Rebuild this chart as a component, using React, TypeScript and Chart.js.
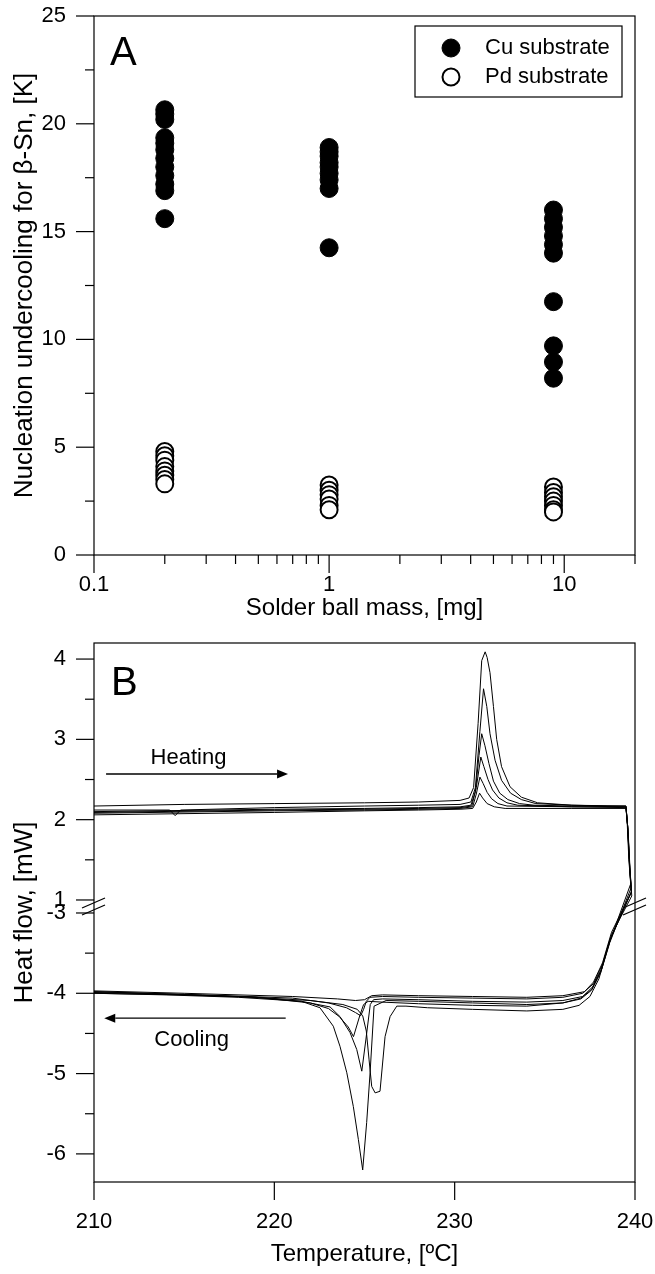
import React, { useEffect, useRef } from "react";
import { Chart, registerables } from "chart.js";

Chart.register(...registerables);

const FONT = "'Liberation Sans', Arial, Helvetica, sans-serif";

// ---------------- Panel A data ----------------
const massCategories = [0.2, 1, 9];
const cuAt02 = [20.65, 20.45, 20.2, 19.35, 19.1, 18.8, 18.4, 18.0, 17.6, 17.2, 16.9, 15.6];
const cuAt1 = [18.9, 18.7, 18.5, 18.2, 18.0, 17.7, 17.4, 17.0, 14.25];
const cuAt9 = [16.0, 15.6, 15.2, 14.8, 14.4, 14.0, 11.75, 9.7, 8.95, 8.2];
const pdAt02 = [4.8, 4.6, 4.4, 4.1, 3.9, 3.7, 3.5, 3.3];
const pdAt1 = [3.25, 3.0, 2.8, 2.6, 2.3, 2.1];
const pdAt9 = [3.15, 2.9, 2.7, 2.5, 2.3, 2.1, 2.0];

const massTicks = [0.1, 1, 10];
const massTickLabels = ["0.1", "1", "10"];
const massMinorTicks = [0.2, 0.3, 0.4, 0.5, 0.6, 0.7, 0.8, 0.9, 2, 3, 4, 5, 6, 7, 8, 9, 20];
const undercoolTicks = [0, 5, 10, 15, 20, 25];
const undercoolMinorTicks = [2.5, 7.5, 12.5, 17.5, 22.5];

// ---------------- Panel B data ----------------
const tempTicks = [210, 220, 230, 240];
const heatFlowTicks = [4, 3, 2, 1, -3, -4, -5, -6];
const heatFlowTickLabels = ["4", "3", "2", "1", "-3", "-4", "-5", "-6"];
const heatFlowMinorTicks = [3.5, 2.5, 1.5, -3.5, -4.5, -5.5];

// heating runs
const heat1T = [210, 215, 220, 225, 228, 230.3, 230.8, 231.05, 231.3, 231.5, 231.69, 231.8, 231.96, 232.15, 232.33, 232.6, 233.07, 233.7, 234.6, 236.5, 238.5, 239.5];
const heat1HF = [2.17, 2.19, 2.2, 2.21, 2.22, 2.24, 2.27, 2.4, 3.2, 3.98, 4.09, 4.02, 3.83, 3.41, 3.0, 2.66, 2.41, 2.28, 2.21, 2.18, 2.17, 2.17];
const heat2T = [210, 214.2, 214.5, 214.8, 220, 225, 228, 230.3, 230.9, 231.15, 231.4, 231.6, 231.78, 231.96, 232.24, 232.6, 233.1, 233.7, 234.5, 236.5, 239.5];
const heat2HF = [2.12, 2.12, 2.05, 2.12, 2.15, 2.17, 2.18, 2.19, 2.22, 2.4, 3.1, 3.63, 3.41, 3.07, 2.74, 2.49, 2.33, 2.25, 2.2, 2.18, 2.17];
const heat3T = [210, 220, 225, 228, 230.3, 230.9, 231.15, 231.35, 231.5, 231.68, 231.9, 232.15, 232.5, 232.95, 233.6, 234.4, 236.5, 239.5];
const heat3HF = [2.1, 2.13, 2.14, 2.15, 2.16, 2.18, 2.35, 2.8, 3.07, 2.92, 2.7, 2.48, 2.33, 2.25, 2.2, 2.18, 2.17, 2.16];
const heat4T = [210, 220, 225, 228, 230.3, 230.95, 231.2, 231.45, 231.62, 231.85, 232.1, 232.45, 232.9, 233.5, 236.5, 239.5];
const heat4HF = [2.09, 2.12, 2.13, 2.14, 2.15, 2.17, 2.4, 2.78, 2.66, 2.5, 2.37, 2.27, 2.21, 2.18, 2.16, 2.16];
const heat5T = [210, 220, 225, 228, 230.3, 231.0, 231.2, 231.4, 231.58, 231.8, 232.05, 232.4, 232.9, 236.5, 239.5];
const heat5HF = [2.08, 2.11, 2.12, 2.13, 2.14, 2.16, 2.32, 2.53, 2.45, 2.34, 2.26, 2.2, 2.17, 2.16, 2.15];
const heat6T = [210, 220, 225, 228, 230.3, 231.0, 231.2, 231.38, 231.55, 231.8, 232.2, 232.8, 236.5, 239.5];
const heat6HF = [2.06, 2.09, 2.11, 2.12, 2.13, 2.14, 2.22, 2.33, 2.27, 2.2, 2.16, 2.14, 2.14, 2.14];

// cooling runs (start with the jump at 240 °C)
const cool1T = [239.58, 239.68, 239.78, 238.6, 238.1, 237.6, 237.0, 236.0, 234.0, 231.0, 228.0, 226.2, 225.53, 225.31, 225.12, 224.9, 224.66, 224.38, 224.02, 223.64, 223.27, 222.53, 221.5, 219.0, 215.0, 210.0];
const cool1HF = [1.95, 1.5, 1.15, -3.37, -3.74, -3.96, -4.07, -4.12, -4.14, -4.12, -4.1, -4.09, -4.16, -4.99, -5.61, -6.2, -5.82, -5.41, -4.99, -4.66, -4.41, -4.18, -4.1, -4.05, -4.02, -4.0];
const cool2T = [239.6, 239.7, 239.8, 238.65, 238.15, 237.65, 237.1, 236.0, 234.0, 231.0, 228.0, 226.0, 225.5, 225.32, 225.08, 224.85, 224.57, 224.2, 223.64, 223.09, 221.5, 218.0, 214.0, 210.0];
const cool2HF = [1.9, 1.45, 1.1, -3.32, -3.7, -3.92, -4.04, -4.09, -4.11, -4.1, -4.08, -4.07, -4.08, -4.14, -4.57, -4.97, -4.7, -4.49, -4.29, -4.17, -4.1, -4.05, -4.02, -4.0];
const cool3T = [239.57, 239.66, 239.76, 238.5, 238.0, 237.5, 236.9, 236.0, 234.0, 231.0, 228.5, 227.3, 226.79, 226.42, 226.14, 225.86, 225.59, 225.4, 225.25, 225.1, 224.9, 224.6, 223.8, 222.0, 218.0, 214.0, 210.0];
const cool3HF = [1.95, 1.5, 1.2, -3.42, -3.82, -4.04, -4.15, -4.2, -4.22, -4.2, -4.18, -4.16, -4.16, -4.29, -4.54, -5.22, -5.24, -5.16, -4.82, -4.47, -4.28, -4.2, -4.14, -4.09, -4.04, -4.01, -3.98];
const cool4T = [239.6, 239.7, 239.8, 238.6, 238.1, 237.6, 237.0, 236.0, 234.0, 231.0, 228.0, 226.0, 225.2, 224.95, 224.75, 224.39, 224.1, 223.6, 223.0, 222.0, 219.0, 214.0, 210.0];
const cool4HF = [1.9, 1.4, 1.1, -3.34, -3.72, -3.95, -4.06, -4.12, -4.16, -4.15, -4.13, -4.11, -4.1, -4.14, -4.27, -4.54, -4.42, -4.29, -4.19, -4.12, -4.05, -4.01, -3.99];
const cool5T = [239.62, 239.72, 239.82, 238.7, 238.2, 237.7, 237.1, 236.0, 234.0, 231.0, 228.0, 226.0, 225.3, 225.1, 224.95, 224.79, 224.5, 224.0, 223.0, 221.0, 216.0, 210.0];
const cool5HF = [1.85, 1.4, 1.05, -3.27, -3.64, -3.88, -4.0, -4.05, -4.07, -4.06, -4.05, -4.04, -4.05, -4.1, -4.2, -4.28, -4.24, -4.18, -4.12, -4.06, -4.02, -3.98];
const cool6T = [239.6, 239.7, 239.8, 238.7, 238.2, 237.7, 237.2, 236.0, 234.0, 231.0, 228.0, 226.0, 225.4, 225.0, 224.5, 223.5, 221.0, 215.0, 210.0];
const cool6HF = [1.9, 1.45, 1.1, -3.24, -3.62, -3.86, -3.98, -4.03, -4.05, -4.04, -4.03, -4.02, -4.03, -4.08, -4.09, -4.07, -4.04, -4.0, -3.97];

const heatRunsT = [heat1T, heat2T, heat3T, heat4T, heat5T, heat6T];
const heatRunsHF = [heat1HF, heat2HF, heat3HF, heat4HF, heat5HF, heat6HF];
const coolRunsT = [cool1T, cool2T, cool3T, cool4T, cool5T, cool6T];
const coolRunsHF = [cool1HF, cool2HF, cool3HF, cool4HF, cool5HF, cool6HF];

// axis break: values below -1 mW are shifted up so that -3 sits just under 1
const BREAK_SHIFT = 3.838;
const toD = (v: number) => (v < -1 ? v + BREAK_SHIFT : v);

// ---------------- helpers ----------------
const MAJOR = 18;
const MINOR = 9;

function line(ctx: CanvasRenderingContext2D, x1: number, y1: number, x2: number, y2: number) {
  ctx.beginPath();
  ctx.moveTo(x1, y1);
  ctx.lineTo(x2, y2);
  ctx.stroke();
}

function fixAxisY(width: number) {
  return (s: any) => {
    s.width = width;
    s.paddingTop = 0;
    s.paddingBottom = 0;
    s.paddingLeft = 0;
    s.paddingRight = 0;
  };
}
function fixAxisX(height: number) {
  return (s: any) => {
    s.height = height;
    s.paddingTop = 0;
    s.paddingBottom = 0;
    s.paddingLeft = 0;
    s.paddingRight = 0;
  };
}

const panelAPlugin = {
  id: "panelA",
  afterDraw(chart: any) {
    const { ctx, chartArea: a } = chart;
    const x = chart.scales.x;
    const y = chart.scales.y;
    ctx.save();
    ctx.strokeStyle = "#000";
    ctx.fillStyle = "#000";
    ctx.lineWidth = 1.2;
    ctx.strokeRect(a.left, a.top, a.right - a.left, a.bottom - a.top);
    undercoolTicks.forEach((v) => {
      const p = y.getPixelForValue(v);
      line(ctx, a.left - MAJOR, p, a.left, p);
    });
    undercoolMinorTicks.forEach((v) => {
      const p = y.getPixelForValue(v);
      line(ctx, a.left - MINOR, p, a.left, p);
    });
    massTicks.forEach((v) => {
      const p = x.getPixelForValue(v);
      line(ctx, p, a.bottom, p, a.bottom + MAJOR);
    });
    massMinorTicks.forEach((v) => {
      const p = x.getPixelForValue(v);
      line(ctx, p, a.bottom, p, a.bottom + MINOR);
    });
    // panel letter
    ctx.font = `40px ${FONT}`;
    ctx.textBaseline = "alphabetic";
    ctx.textAlign = "left";
    ctx.fillText("A", a.left + 16, a.top + 49);
    // legend
    const bx = a.right - 220;
    const by = a.top + 10;
    ctx.lineWidth = 1.2;
    ctx.strokeRect(bx, by, 207, 71);
    const rows = [
      { label: chart.data.datasets[0].label, fill: "#000", bw: 1, r: 9, yy: by + 22 },
      { label: chart.data.datasets[1].label, fill: "#fff", bw: 2, r: 8.5, yy: by + 51 },
    ];
    ctx.font = `22px ${FONT}`;
    ctx.textBaseline = "middle";
    rows.forEach((row) => {
      ctx.beginPath();
      ctx.arc(bx + 36, row.yy, row.r, 0, Math.PI * 2);
      ctx.fillStyle = row.fill;
      ctx.fill();
      ctx.lineWidth = row.bw;
      ctx.stroke();
      ctx.fillStyle = "#000";
      ctx.fillText(row.label, bx + 70, row.yy);
    });
    ctx.restore();
  },
};

// annotation anchors (data coordinates) for panel B
const heatingArrow = { from: 210.67, to: 220.76, hf: 2.569 };
const heatingText = { t: 215.24, hf: 2.768, text: "Heating" };
const coolingArrow = { from: 220.63, to: 210.57, hf: -4.31 };
const coolingText = { t: 215.41, hf: -4.58, text: "Cooling" };

function arrow(ctx: CanvasRenderingContext2D, x1: number, x2: number, y: number) {
  const dir = Math.sign(x2 - x1);
  const head = 11;
  line(ctx, x1, y, x2 - dir * head, y);
  ctx.beginPath();
  ctx.moveTo(x2, y);
  ctx.lineTo(x2 - dir * head, y - 4.5);
  ctx.lineTo(x2 - dir * head, y + 4.5);
  ctx.closePath();
  ctx.fill();
}

const panelBPlugin = {
  id: "panelB",
  afterDraw(chart: any) {
    const { ctx, chartArea: a } = chart;
    const x = chart.scales.x;
    const y = chart.scales.y;
    ctx.save();
    ctx.strokeStyle = "#000";
    ctx.fillStyle = "#000";
    ctx.lineWidth = 1.2;
    ctx.strokeRect(a.left, a.top, a.right - a.left, a.bottom - a.top);
    heatFlowTicks.forEach((v) => {
      const p = y.getPixelForValue(toD(v));
      line(ctx, a.left - MAJOR, p, a.left, p);
    });
    heatFlowMinorTicks.forEach((v) => {
      const p = y.getPixelForValue(toD(v));
      line(ctx, a.left - MINOR, p, a.left, p);
    });
    tempTicks.forEach((v) => {
      const p = x.getPixelForValue(v);
      line(ctx, p, a.bottom, p, a.bottom + MAJOR);
    });
    // axis break marks
    const yb = (y.getPixelForValue(toD(1)) + y.getPixelForValue(toD(-3))) / 2;
    [a.left, a.right].forEach((xx) => {
      ctx.lineWidth = 1.2;
      line(ctx, xx - 12, yb + 1.5, xx + 11, yb - 8.5);
      line(ctx, xx - 12, yb + 8.5, xx + 11, yb - 1.5);
    });
    // panel letter
    ctx.font = `40px ${FONT}`;
    ctx.textBaseline = "alphabetic";
    ctx.textAlign = "left";
    ctx.fillText("B", a.left + 17, a.top + 52);
    // annotations
    ctx.font = `22px ${FONT}`;
    ctx.textAlign = "center";
    ctx.textBaseline = "middle";
    ctx.fillText(heatingText.text, x.getPixelForValue(heatingText.t), y.getPixelForValue(toD(heatingText.hf)));
    ctx.fillText(coolingText.text, x.getPixelForValue(coolingText.t), y.getPixelForValue(toD(coolingText.hf)));
    ctx.lineWidth = 1.3;
    arrow(ctx, x.getPixelForValue(heatingArrow.from), x.getPixelForValue(heatingArrow.to), y.getPixelForValue(toD(heatingArrow.hf)));
    arrow(ctx, x.getPixelForValue(coolingArrow.from), x.getPixelForValue(coolingArrow.to), y.getPixelForValue(toD(coolingArrow.hf)));
    ctx.restore();
  },
};

const tickFont = { family: FONT, size: 22 };
const xTitleFont = { family: FONT, size: 24 };
const yTitleFont = { family: FONT, size: 26 };

export default function App() {
  const refA = useRef<HTMLCanvasElement>(null);
  const refB = useRef<HTMLCanvasElement>(null);

  useEffect(() => {
    const pts = (m: number, vals: number[]) => vals.map((v) => ({ x: m, y: v }));
    const chartA = new Chart(refA.current as HTMLCanvasElement, {
      type: "scatter",
      data: {
        datasets: [
          {
            label: "Cu substrate",
            data: [...pts(massCategories[0], cuAt02), ...pts(massCategories[1], cuAt1), ...pts(massCategories[2], cuAt9)],
            pointRadius: 9,
            pointBackgroundColor: "#000",
            pointBorderColor: "#000",
            pointBorderWidth: 1,
          },
          {
            label: "Pd substrate",
            data: [...pts(massCategories[0], pdAt02), ...pts(massCategories[1], pdAt1), ...pts(massCategories[2], pdAt9)],
            pointRadius: 8.5,
            pointBackgroundColor: "#fff",
            pointBorderColor: "#000",
            pointBorderWidth: 2,
          },
        ],
      },
      options: {
        responsive: false,
        animation: false,
        devicePixelRatio: 1,
        layout: { padding: { top: 16, right: 20, left: 0, bottom: 0 } },
        plugins: { legend: { display: false }, tooltip: { enabled: false } },
        scales: {
          x: {
            type: "logarithmic",
            min: 0.1,
            max: 20,
            afterBuildTicks: (s: any) => {
              s.ticks = massTicks.map((v) => ({ value: v }));
            },
            afterFit: fixAxisX(640 - 555),
            ticks: {
              callback: (_v: any, i: number) => massTickLabels[i],
              font: tickFont,
              color: "#000",
              padding: 17,
              maxRotation: 0,
              autoSkip: false,
            },
            grid: { display: false, drawTicks: false },
            border: { display: false },
            title: {
              display: true,
              text: "Solder ball mass, [mg]",
              font: xTitleFont,
              color: "#000",
              padding: { top: 0, bottom: 17 },
            },
          },
          y: {
            type: "linear",
            min: 0,
            max: 25,
            afterBuildTicks: (s: any) => {
              s.ticks = undercoolTicks.map((v) => ({ value: v }));
            },
            afterFit: fixAxisY(94),
            ticks: {
              callback: (v: any) => String(v),
              font: tickFont,
              color: "#000",
              padding: 28,
              autoSkip: false,
            },
            grid: { display: false, drawTicks: false },
            border: { display: false },
            title: {
              display: true,
              text: "Nucleation undercooling for β-Sn, [K]",
              font: yTitleFont,
              color: "#000",
              padding: { top: 9, bottom: 0 },
            },
          },
        },
      },
      plugins: [panelAPlugin],
    } as any);

    const datasetsB = heatRunsT.map((ht, i) => {
      const data = [
        ...ht.map((t, j) => ({ x: t, y: toD(heatRunsHF[i][j]) })),
        ...coolRunsT[i].map((t, j) => ({ x: t, y: toD(coolRunsHF[i][j]) })),
      ];
      return {
        label: `run ${i + 1}`,
        data,
        showLine: true,
        borderColor: "#000",
        borderWidth: 1,
        pointRadius: 0,
        fill: false,
        tension: 0,
      };
    });

    const chartB = new Chart(refB.current as HTMLCanvasElement, {
      type: "scatter",
      data: { datasets: datasetsB },
      options: {
        responsive: false,
        animation: false,
        devicePixelRatio: 1,
        layout: { padding: { top: 13, right: 20, left: 0, bottom: 0 } },
        plugins: { legend: { display: false }, tooltip: { enabled: false } },
        scales: {
          x: {
            type: "linear",
            min: 210,
            max: 240,
            afterBuildTicks: (s: any) => {
              s.ticks = tempTicks.map((v) => ({ value: v }));
            },
            afterFit: fixAxisX(644 - 552),
            ticks: {
              callback: (v: any) => String(v),
              font: tickFont,
              color: "#000",
              padding: 27,
              maxRotation: 0,
              autoSkip: false,
            },
            grid: { display: false, drawTicks: false },
            border: { display: false },
            title: {
              display: true,
              text: "Temperature, [ºC]",
              font: xTitleFont,
              color: "#000",
              padding: { top: 0, bottom: 5 },
            },
          },
          y: {
            type: "linear",
            min: -2.512,
            max: 4.2,
            afterBuildTicks: (s: any) => {
              s.ticks = heatFlowTicks.map((v) => ({ value: toD(v) }));
            },
            afterFit: fixAxisY(94),
            ticks: {
              callback: (_v: any, i: number) => heatFlowTickLabels[i],
              font: tickFont,
              color: "#000",
              padding: 28,
              autoSkip: false,
            },
            grid: { display: false, drawTicks: false },
            border: { display: false },
            title: {
              display: true,
              text: "Heat flow, [mW]",
              font: yTitleFont,
              color: "#000",
              padding: { top: 9, bottom: 0 },
            },
          },
        },
      },
      plugins: [panelBPlugin],
    } as any);

    return () => {
      chartA.destroy();
      chartB.destroy();
    };
  }, []);

  return (
    <div style={{ position: "absolute", left: 0, top: 0, width: 655, height: 1274, background: "#fff" }}>
      <canvas ref={refA} width={655} height={640} style={{ position: "absolute", left: 0, top: 0 }} />
      <canvas ref={refB} width={655} height={644} style={{ position: "absolute", left: 0, top: 630 }} />
    </div>
  );
}
